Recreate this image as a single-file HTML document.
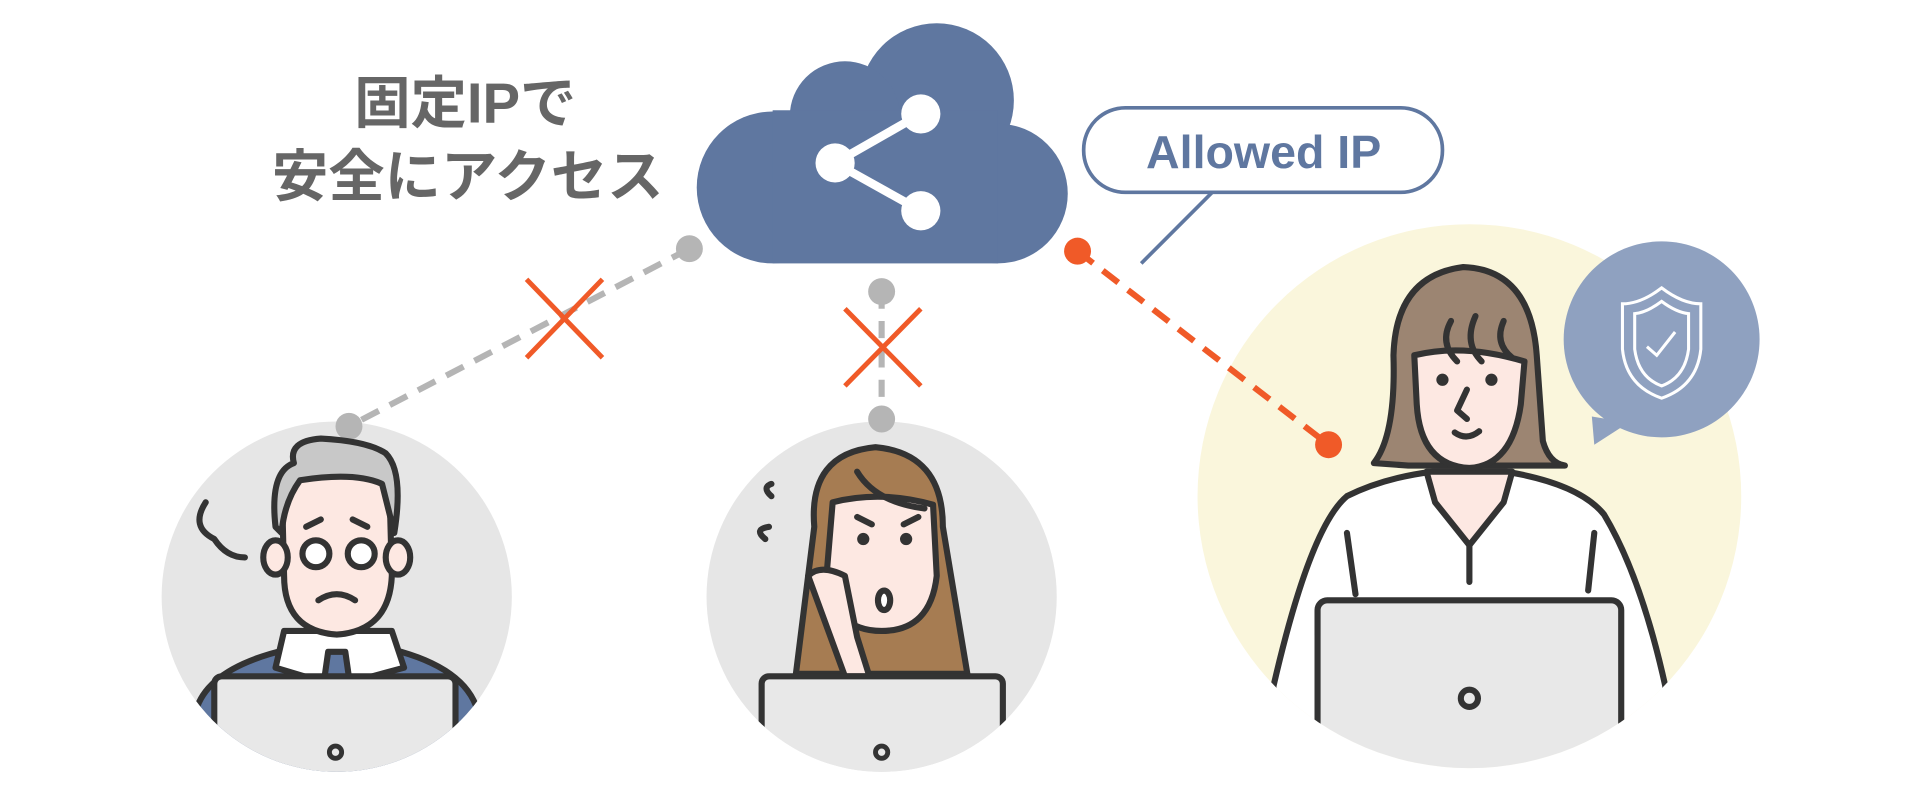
<!DOCTYPE html>
<html><head><meta charset="utf-8"><style>html,body{margin:0;padding:0;background:#fff;width:1920px;height:800px;overflow:hidden}svg{display:block}</style></head>
<body>
<svg width="1920" height="800" viewBox="0 0 1568 653" preserveAspectRatio="none" xmlns="http://www.w3.org/2000/svg">
<defs>
<clipPath id="c1"><circle cx="275" cy="487" r="143"/></clipPath>
<clipPath id="c2"><circle cx="720" cy="487" r="143"/></clipPath>
<clipPath id="c3"><circle cx="1200" cy="405" r="222"/></clipPath>
</defs>
<text x="380" y="100" font-family="'Liberation Sans','Noto Sans CJK JP',sans-serif" font-size="46" font-weight="bold" fill="#666" text-anchor="middle">固定IPで</text>
<text x="382" y="160" font-family="'Liberation Sans','Noto Sans CJK JP',sans-serif" font-size="46" font-weight="bold" fill="#666" text-anchor="middle">安全にアクセス</text>

<circle cx="275" cy="487" r="143" fill="#e6e6e6"/>
<circle cx="720" cy="487" r="143" fill="#e6e6e6"/>
<circle cx="1200" cy="405" r="222" fill="#faf6dc"/>

<g fill="#5f77a0">
<circle cx="765" cy="82" r="63"/>
<circle cx="631" cy="153" r="62"/>
<circle cx="815" cy="158" r="57"/>
<circle cx="690" cy="95" r="45"/>
<rect x="631" y="90" width="184" height="125"/>
</g>
<g stroke="#fff" stroke-width="7"><line x1="752" y1="93" x2="682" y2="133"/><line x1="682" y1="133" x2="752" y2="172"/></g>
<g fill="#fff"><circle cx="752" cy="93" r="16"/><circle cx="682" cy="133" r="16"/><circle cx="752" cy="172" r="16"/></g>

<line x1="990" y1="157" x2="932" y2="215" stroke="#5f77a0" stroke-width="3"/>
<rect x="885" y="88" width="293" height="69" rx="34" fill="#fff" stroke="#5f77a0" stroke-width="3"/>
<text x="1032" y="137" font-family="'Liberation Sans',sans-serif" font-size="38" font-weight="bold" fill="#5f77a0" text-anchor="middle">Allowed IP</text>

<line x1="563" y1="203" x2="285" y2="348" stroke="#b5b5b5" stroke-width="5" stroke-dasharray="16 10"/>
<circle cx="563" cy="203" r="11" fill="#b5b5b5"/><circle cx="285" cy="348" r="11" fill="#b5b5b5"/>
<line x1="720" y1="238" x2="720" y2="342" stroke="#b5b5b5" stroke-width="5" stroke-dasharray="14 10"/>
<circle cx="720" cy="238" r="11" fill="#b5b5b5"/><circle cx="720" cy="342" r="11" fill="#b5b5b5"/>
<g stroke="#f05a28" stroke-width="4"><line x1="430" y1="228" x2="492" y2="292"/><line x1="492" y1="228" x2="430" y2="292"/>
<line x1="690" y1="252" x2="752" y2="315"/><line x1="752" y1="252" x2="690" y2="315"/></g>
<line x1="880" y1="205" x2="1085" y2="363" stroke="#f05a28" stroke-width="5" stroke-dasharray="16 10"/>
<circle cx="880" cy="205" r="11" fill="#f05a28"/><circle cx="1085" cy="363" r="11" fill="#f05a28"/>

<g clip-path="url(#c1)" stroke="#333" stroke-width="5" stroke-linecap="round" stroke-linejoin="round">
<path d="M160 580 Q170 545 235 530 L320 530 Q380 545 390 580 L395 660 L155 660Z" fill="#5f77a0"/>
<path d="M232 515 L320 515 L330 545 L275 560 L225 545Z" fill="#fff"/>
<path d="M268 532 L282 532 L286 560 L264 560Z" fill="#5f77a0"/>
<path d="M230 390 Q230 375 275 378 Q318 375 318 395 L320 470 Q318 515 275 518 Q232 515 232 470Z" fill="#fde8e2"/>
<ellipse cx="225" cy="455" rx="10" ry="14" fill="#fde8e2"/><ellipse cx="325" cy="455" rx="10" ry="14" fill="#fde8e2"/>
<path d="M225 430 Q220 385 240 378 Q235 360 262 358 Q300 360 315 370 Q330 385 322 435 L312 395 Q290 385 245 392 Q232 410 230 435Z" fill="#c8c8c8"/>
<circle cx="258" cy="452" r="11" fill="#fff"/><circle cx="295" cy="452" r="11" fill="#fff"/>
<path d="M250 430 L262 424 M288 424 L300 430 M260 490 Q275 480 290 490" fill="none"/>
<path d="M168 410 Q155 430 175 440 Q185 455 200 455" fill="none"/>
<rect x="175" y="552" width="197" height="100" rx="6" fill="#e8e8e8"/>
<circle cx="274" cy="614" r="5" fill="none" stroke-width="4"/>
</g>

<g clip-path="url(#c2)" stroke="#333" stroke-width="5" stroke-linecap="round" stroke-linejoin="round">
<path d="M665 430 Q660 370 715 365 Q770 370 770 430 L790 550 L650 550Z" fill="#a67c52"/>
<path d="M680 410 Q720 400 762 412 L765 470 Q760 515 720 515 Q680 515 675 470Z" fill="#fde8e2"/>
<path d="M660 470 Q670 460 690 470 L700 520 L710 552 L690 552Z" fill="#fde8e2"/>
<path d="M700 385 Q715 410 755 415" fill="none"/>
<path d="M700 422 L712 428 M738 428 L750 422" fill="none"/>
<circle cx="705" cy="440" r="2.5" fill="#333"/><circle cx="740" cy="440" r="2.5" fill="#333"/>
<ellipse cx="722" cy="490" rx="5" ry="8" fill="#fff"/>
<path d="M630 405 Q622 398 630 395 M625 440 Q615 432 628 430" fill="none"/>
<rect x="622" y="552" width="197" height="100" rx="6" fill="#e8e8e8"/>
<circle cx="720" cy="614" r="5" fill="none" stroke-width="4"/>
</g>

<g clip-path="url(#c3)" stroke="#333" stroke-width="5" stroke-linecap="round" stroke-linejoin="round">
<path d="M1040 560 Q1070 430 1100 405 Q1130 390 1170 385 L1230 385 Q1290 395 1310 420 Q1340 470 1360 560 L1360 660 L1040 660Z" fill="#fff"/>
<path d="M1165 385 L1235 385 L1228 410 L1200 445 L1172 410Z" fill="#fde8e2"/>
<path d="M1122 378 Q1140 355 1138 290 Q1140 225 1195 218 Q1250 220 1255 290 L1260 360 Q1265 378 1278 380 L1245 380 L1150 380Z" fill="#9c8572"/>
<path d="M1155 290 Q1195 280 1245 295 L1242 330 Q1235 380 1200 382 Q1160 380 1157 330Z" fill="#fde8e2"/>
<path d="M1185 262 Q1175 280 1190 295 M1205 258 Q1195 280 1210 295 M1228 262 Q1220 280 1235 292" fill="none"/>
<circle cx="1178" cy="310" r="2.5" fill="#333"/><circle cx="1218" cy="310" r="2.5" fill="#333"/>
<path d="M1198 318 L1190 335 L1198 342 M1188 353 Q1198 360 1208 352" fill="none"/>
<path d="M1200 445 L1200 475 M1100 435 L1107 485 M1302 435 L1297 482" fill="none"/>
<rect x="1076" y="490" width="248" height="180" rx="8" fill="#e8e8e8"/>
<circle cx="1200" cy="570" r="7" fill="none" stroke-width="5"/>
</g>

<path d="M1300 340 L1302 363 L1330 345Z" fill="#8fa1c0"/>
<circle cx="1357" cy="277" r="80" fill="#8fa1c0"/>
<path d="M1357 235 Q1340 248 1325 248 L1325 285 Q1328 315 1357 325 Q1386 315 1389 285 L1389 248 Q1374 248 1357 235Z" fill="none" stroke="#fff" stroke-width="2.5"/>
<path d="M1357 246 Q1345 255 1335 256 L1335 285 Q1338 308 1357 315 Q1376 308 1379 285 L1379 256 Q1369 255 1357 246Z" fill="none" stroke="#fff" stroke-width="2.5"/>
<path d="M1345 283 L1353 290 L1368 271" fill="none" stroke="#fff" stroke-width="2.5"/>
</svg>
</body></html>
